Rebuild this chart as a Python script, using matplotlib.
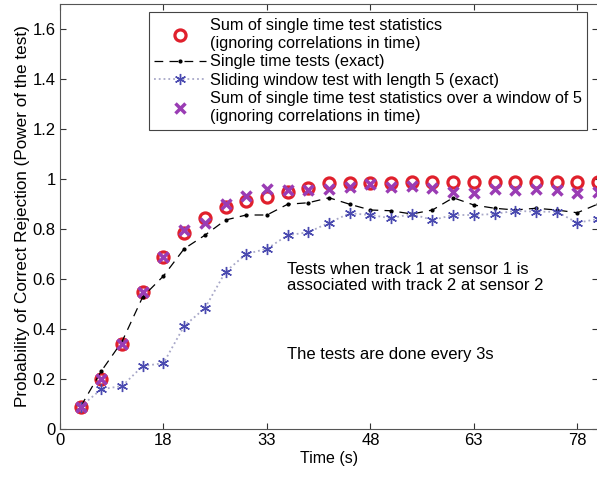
import matplotlib.pyplot as plt
import numpy as np

plt.rcParams['font.family'] = ['Liberation Sans', 'DejaVu Sans']

# sample index (one test every 3 s)
idx = np.arange(1, 27)
tick_pos = [0, 5, 10, 15, 20, 25]
tick_labels = ['0', '18', '33', '48', '63', '78']

sum_single = [0.09, 0.20, 0.34, 0.55, 0.69, 0.785, 0.843, 0.888, 0.913, 0.929,
              0.949, 0.965, 0.985, 0.985, 0.985, 0.985, 0.99, 0.99, 0.99, 0.99,
              0.99, 0.99, 0.99, 0.99, 0.99, 0.99]
single_exact = [0.09, 0.232, 0.35, 0.529, 0.612, 0.721, 0.775, 0.836, 0.856, 0.856,
                0.899, 0.905, 0.925, 0.899, 0.876, 0.873, 0.86, 0.876, 0.925, 0.896,
                0.883, 0.876, 0.883, 0.876, 0.865, 0.90]
sliding_exact = [0.09, 0.159, 0.172, 0.252, 0.263, 0.412, 0.483, 0.629, 0.70, 0.721,
                 0.775, 0.787, 0.825, 0.863, 0.856, 0.843, 0.86, 0.836, 0.856, 0.856,
                 0.86, 0.873, 0.869, 0.869, 0.825, 0.84]
sum_window = [0.09, 0.20, 0.34, 0.55, 0.69, 0.795, 0.825, 0.90, 0.932, 0.96,
              0.955, 0.958, 0.96, 0.97, 0.98, 0.97, 0.972, 0.963, 0.949, 0.945,
              0.96, 0.956, 0.96, 0.956, 0.945, 0.95]


def main():
    fig = plt.figure(figsize=(5.97, 4.78), dpi=100)
    ax = fig.add_axes([60 / 597, 49 / 478, 538 / 597, 425 / 478])

    ax.plot(idx, sum_single, 'o', mfc='none', mec='#e0202c', mew=2.3, ms=8,
            label='Sum of single time test statistics\n(ignoring correlations in time)')
    ax.plot(idx, single_exact, '--', color='black', lw=0.9, dashes=(7, 5),
            marker='.', ms=4, label='Single time tests (exact)')
    ax.plot(idx, sliding_exact, ':', color='#a8a8c8', lw=1.3,
            marker=(6, 2, 0), ms=8, mec='#4a4ab0', mew=1.0,
            label='Sliding window test with length 5 (exact)')
    ax.plot(idx, sum_window, 'x', color='#9a3cb4', mew=2.5, ms=7, ls='none',
            label='Sum of single time test statistics over a window of 5\n'
                  '(ignoring correlations in time)')

    ax.set_xlim(0, 26)
    ax.set_ylim(0, 1.7)
    ax.set_xticks(tick_pos)
    ax.set_xticklabels(tick_labels)
    ax.set_yticks([0, 0.2, 0.4, 0.6, 0.8, 1, 1.2, 1.4, 1.6])
    ax.set_yticklabels(['0', '0.2', '0.4', '0.6', '0.8', '1', '1.2', '1.4', '1.6'])
    ax.tick_params(direction='in', top=True, right=True, length=4,
                   labelsize=12, width=0.8, colors='#333333', labelcolor='black',
                   pad=3)
    for s in ax.spines.values():
        s.set_color('#555555')
        s.set_linewidth(0.8)

    ax.set_xlabel('Time (s)', fontsize=11.5, labelpad=2)
    ax.set_ylabel('Probability of Correct Rejection (Power of the test)',
                  fontsize=12.3, labelpad=2)

    ax.text(10.95, 0.67, 'Tests when track 1 at sensor 1 is\n'
            'associated with track 2 at sensor 2', fontsize=12, va='top',
            linespacing=1.1)
    ax.text(10.95, 0.33, 'The tests are done every 3s', fontsize=12, va='top')

    leg = ax.legend(loc='upper right', bbox_to_anchor=(0.98, 0.981),
                    borderaxespad=0, fontsize=11.7, fancybox=False,
                    edgecolor='#444444', framealpha=1, handlelength=3.2,
                    handletextpad=0.2, labelspacing=0.22, borderpad=0.35)
    leg.get_frame().set_linewidth(0.8)
    for t in leg.get_texts():
        t.set_linespacing(1.25)

    fig.savefig('out.png', dpi=100)


if __name__ == "__main__":
    main()
